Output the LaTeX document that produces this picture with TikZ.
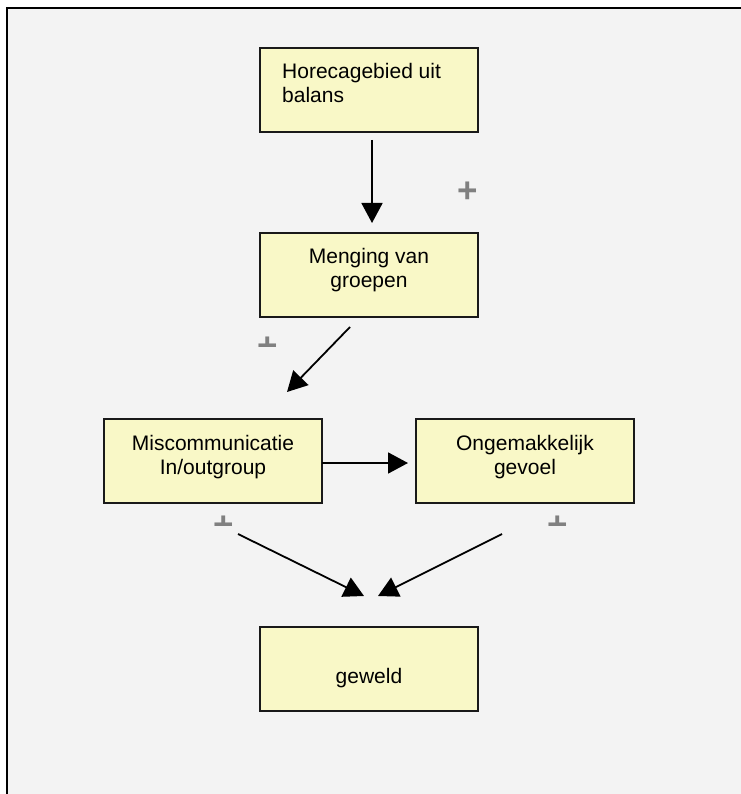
\documentclass[tikz,border=0pt]{standalone}
\usepackage{fontspec}
\setmainfont{Liberation Sans}
\usetikzlibrary{arrows.meta,calc}
\definecolor{bg}{HTML}{F3F3F3}
\definecolor{boxfill}{HTML}{F9F8C7}
\definecolor{plusgray}{HTML}{808080}
\begin{document}
\begin{tikzpicture}[x=1pt,y=1pt,
  box/.style={draw=black!90, line width=2pt, fill=boxfill, minimum width=218pt, minimum height=84pt, inner sep=0pt, outer sep=0pt},
  lbl/.style={font=\fontsize{21}{24}\selectfont, inner sep=0pt, anchor=base},
  arr/.style={line width=1.8pt, -{Triangle[length=20pt,width=21pt]}},
  plusmark/.style={font=\fontsize{35}{35}\selectfont\bfseries, text=plusgray, inner sep=0pt, anchor=base}]
\fill[white] (0,0) rectangle (740,-794);
\useasboundingbox (0,0) rectangle (740,-794);
\fill[bg] (7,-8) rectangle (745,-800);
\draw[line width=2pt] (7,-800) -- (7,-8) -- (745,-8);

\node[box] (b1) at (369,-90) {};
\node[lbl, anchor=base west] (t1a) at ($(b1.north west)+(22,-31)$) {Horecagebied uit};
\node[lbl, anchor=base west] (t1b) at ($(b1.north west)+(22,-55)$) {balans};

\node[box] (b2) at (369,-275) {};
\node[lbl] (t2a) at ($(b2.north)+(0,-30)$) {Menging van};
\node[lbl] (t2b) at ($(b2.north)+(0,-54)$) {groepen};

\node[box] (b3) at (213,-461) {};
\node[lbl] (t3a) at ($(b3.north)+(0,-31)$) {Miscommunicatie};
\node[lbl] (t3b) at ($(b3.north)+(0,-55)$) {In/outgroup};

\node[box] (b4) at (525,-461) {};
\node[lbl] (t4a) at ($(b4.north)+(0,-31)$) {Ongemakkelijk};
\node[lbl] (t4b) at ($(b4.north)+(0,-55)$) {gevoel};

\node[box] (b5) at (369,-669) {};
\node[lbl] (t5) at ($(b5.center)+(0,-14)$) {geweld};

\draw[arr] ($(b1.south)+(3,-8)$) -- ($(b2.north)+(3,10)$);
\draw[arr] ($(b2.south)+(-19,-10)$) -- ($(b3.north)+(74,27)$);
\draw[arr] ($(b3.east)+(0,-2)$) -- ($(b4.west)+(-8,-2)$);
\draw[arr] ($(b3.south)+(25,-31)$) -- ($(b5.north)+(-5,31)$);
\draw[arr] ($(b4.south)+(-23,-31)$) -- ($(b5.north)+(9,31)$);

\node[plusmark] (p1) at (468,-202.3) {+};
\begin{scope}
\clip (256,-346.5) rectangle (280,-330);
\node[plusmark] (p2) at (268,-357.3) {+};
\end{scope}
\begin{scope}
\clip (212,-525.5) rectangle (236,-509);
\node[plusmark] (p3) at (224,-536.3) {+};
\end{scope}
\begin{scope}
\clip (546,-525.5) rectangle (570,-509);
\node[plusmark] (p4) at (558,-536.3) {+};
\end{scope}
\end{tikzpicture}
\end{document}
